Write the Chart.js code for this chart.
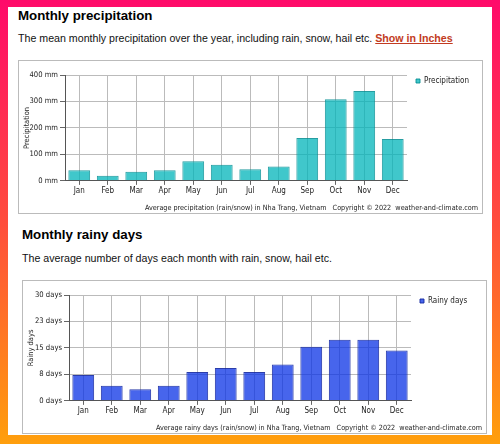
<!DOCTYPE html>
<html>
<head>
<meta charset="utf-8">
<script src="https://cdn.jsdelivr.net/npm/chart.js@4/dist/chart.umd.min.js"></script>
<style>
  body { margin: 0; width: 500px; height: 444px; overflow: hidden; position: relative;
         background: linear-gradient(180deg, #ff0a6a 0%, #ff4d3c 50%, #ff9f0c 100%);
         font-family: "Liberation Sans", Arial, sans-serif; }
  #page { position: absolute; left: 8px; top: 7px; width: 484px; height: 428px; background: #fff; }
  h2 { position: absolute; margin: 0; font-size: 13.3px; font-weight: bold; color: #000; line-height: 18px; white-space: nowrap; }
  p { position: absolute; margin: 0; font-size: 10.65px; color: #111; line-height: 14px; white-space: nowrap; }
  p a { color: #c23b22; font-weight: bold; text-decoration: underline; }
  .box { position: absolute; width: 463px; height: 152px; border: 1px solid #bbb; background: #fff; }
  .box canvas { display: block; }
</style>
</head>
<body>
<div id="page">
  <h2 style="left:10px; top:0px;">Monthly precipitation</h2>
  <p style="left:10px; top:24px;">The mean monthly precipitation over the year, including rain, snow, hail etc. <a>Show in Inches</a></p>
  <div class="box" style="left:10px; top:53px;"><canvas id="precipChart" width="463" height="152"></canvas></div>

  <h2 style="left:14px; top:219px;">Monthly rainy days</h2>
  <p style="left:14px; top:244px;">The average number of days each month with rain, snow, hail etc.</p>
  <div class="box" style="left:14px; top:273px;"><canvas id="rainyChart" width="463" height="152"></canvas></div>
</div>

<script>
// Данные
const months = ["Jan", "Feb", "Mar", "Apr", "May", "Jun", "Jul", "Aug", "Sep", "Oct", "Nov", "Dec"];
const precipitation = [40, 19, 34, 40, 74, 61, 44, 54, 162, 308, 340, 158];
const rainyDays = [7.3, 4.3, 3.3, 4.3, 8.2, 9.3, 8.2, 10.3, 15.3, 17.3, 17.3, 14.3];
const precipTicks = ["0 mm", "100 mm", "200 mm", "300 mm", "400 mm"];
const rainyTicks = ["0 days", "8 days", "15 days", "23 days", "30 days"];

const smallFont = '"DejaVu Sans Condensed", "DejaVu Sans", sans-serif';

// Фиксированная ширина легенды
const legendWidth = {
    id: 'legendWidth',
    beforeLayout(chart) {
        const lg = chart.legend;
        if (lg && !lg._fixed) {
            const fit = lg.fit;
            lg.fit = function () { fit.call(this); this.width = 71; };
            lg._fixed = true;
        }
    }
};

function drawBarChart(id, label, values, max, step, tickLabels, fill, border, footer) {
    const ctx = document.getElementById(id).getContext('2d');
    return new Chart(ctx, {
        type: 'bar',
        data: {
            labels: months,
            datasets: [{
                label: label,
                data: values,
                backgroundColor: fill,
                borderColor: border,
                borderWidth: 1,
                barPercentage: 0.9,
                categoryPercentage: 0.85
            }]
        },
        options: {
            responsive: false,
            animation: false,
            layout: { padding: { top: 7, right: 4, left: 0, bottom: 0 } },
            plugins: {
                legend: {
                    position: 'right',
                    align: 'start',
                    labels: {
                        boxWidth: 4, boxHeight: 4, padding: 9,
                        color: '#222',
                        font: { family: smallFont, size: 8 }
                    }
                },
                subtitle: {
                    display: true, text: '', position: 'top', fullSize: false,
                    font: { size: 1, lineHeight: 1 }, padding: { top: 6, bottom: 0 }
                },
                title: {
                    display: true, text: footer, position: 'bottom', align: 'end',
                    color: '#222',
                    font: { family: smallFont, size: 7.2, weight: 'normal' },
                    padding: { top: 2, bottom: 1 }
                },
                tooltip: { enabled: false }
            },
            scales: {
                x: {
                    afterFit(scale) { scale.height = 20.5; },
                    grid: { offset: false, color: '#bbb', tickColor: '#666', tickLength: 4 },
                    border: { color: '#555' },
                    ticks: { color: '#222', padding: 1, font: { family: smallFont, size: 8 } }
                },
                y: {
                    min: 0, max: max,
                    afterFit(scale) { scale.width = 46; },
                    grid: { color: '#bbb', tickColor: '#666', tickLength: 5 },
                    border: { color: '#555' },
                    title: { display: true, text: label, color: '#222', padding: { top: 4, bottom: 0 },
                             font: { family: smallFont, size: 7.5 } },
                    ticks: {
                        stepSize: step, color: '#222', padding: 2,
                        font: { family: smallFont, size: 7.6 },
                        callback: (v, i) => tickLabels[i]
                    }
                }
            }
        },
        plugins: [legendWidth]
    });
}

drawBarChart('precipChart', 'Precipitation', precipitation, 400, 100, precipTicks,
    'rgba(0, 180, 185, 0.75)', 'rgba(0, 140, 145, 0.85)',
    'Average precipitation (rain/snow) in Nha Trang, Vietnam   Copyright \u00a9 2022  weather-and-climate.com');

drawBarChart('rainyChart', 'Rainy days', rainyDays, 30, 7.5, rainyTicks,
    'rgba(10, 50, 230, 0.75)', 'rgba(20, 40, 160, 0.9)',
    'Average rainy days (rain/snow) in Nha Trang, Vietnam   Copyright \u00a9 2022  weather-and-climate.com');
</script>
</body>
</html>
